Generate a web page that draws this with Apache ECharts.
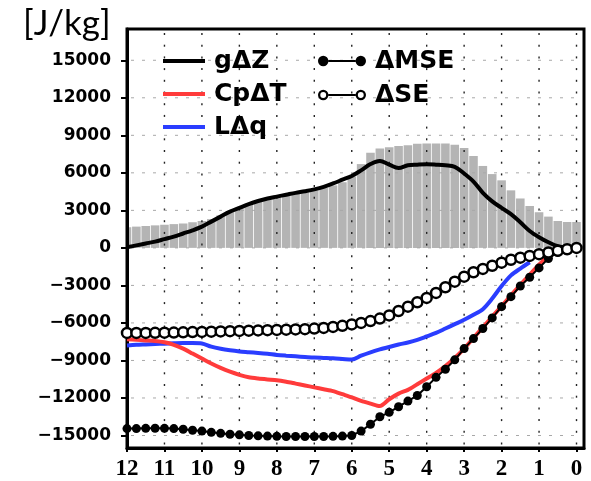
<!DOCTYPE html>
<html><head><meta charset="utf-8">
<script src="https://cdn.jsdelivr.net/npm/echarts@6/dist/echarts.min.js"></script>
<style>html,body{margin:0;padding:0;background:#fff}#c{width:591px;height:481px}</style>
</head><body><div id="c"></div>
<script>
// hours before (x axis, plotted from 12 down to 0)
const hours = [12, 11.75, 11.5, 11.25, 11, 10.75, 10.5, 10.25, 10, 9.75, 9.5, 9.25, 9, 8.75, 8.5, 8.25, 8, 7.75, 7.5, 7.25, 7, 6.75, 6.5, 6.25, 6, 5.75, 5.5, 5.25, 5, 4.75, 4.5, 4.25, 4, 3.75, 3.5, 3.25, 3, 2.75, 2.5, 2.25, 2, 1.75, 1.5, 1.25, 1, 0.75, 0.5, 0.25, 0];
// gray bars
const grayBars = [1650, 1700, 1750, 1800, 1850, 1900, 1950, 2050, 2150, 2300, 2600, 2950, 3200, 3450, 3700, 3900, 4050, 4200, 4350, 4450, 4600, 4800, 5000, 5250, 5700, 6700, 7600, 7950, 8050, 8140, 8200, 8330, 8350, 8350, 8350, 8250, 7980, 7350, 6550, 5900, 5400, 4600, 3950, 3350, 2850, 2500, 2150, 2070, 2070];
// gΔZ
const gdZ = [50, 200, 350, 500, 700, 900, 1150, 1400, 1700, 2100, 2500, 2900, 3200, 3500, 3750, 3950, 4100, 4250, 4400, 4530, 4680, 4880, 5150, 5450, 5750, 6200, 6700, 6950, 6650, 6380, 6600, 6650, 6680, 6650, 6600, 6480, 5950, 5300, 4400, 3720, 3200, 2700, 2050, 1350, 850, 450, 130, 20, 0];
// CpΔT
const cpdT = [-7300, -7350, -7400, -7450, -7550, -7750, -8050, -8450, -8850, -9250, -9600, -9900, -10150, -10350, -10450, -10520, -10580, -10700, -10850, -11000, -11150, -11300, -11450, -11700, -11950, -12230, -12450, -12650, -12100, -11650, -11350, -10900, -10450, -10000, -9450, -8800, -8050, -7200, -6350, -5500, -4650, -3800, -2950, -2150, -1350, -650, -200, -50, 0];
// LΔq
const lDq = [-7800, -7750, -7720, -7690, -7660, -7630, -7610, -7610, -7640, -7900, -8070, -8190, -8280, -8340, -8400, -8470, -8560, -8620, -8670, -8720, -8770, -8800, -8830, -8880, -8930, -8620, -8350, -8120, -7920, -7730, -7560, -7350, -7080, -6800, -6450, -6100, -5750, -5350, -4900, -4050, -3050, -2200, -1650, -1150, null, null, null, null, null];
// ΔMSE
const dMSE = [-14450, -14450, -14430, -14420, -14430, -14450, -14500, -14580, -14650, -14750, -14830, -14900, -14950, -15000, -15030, -15050, -15070, -15080, -15080, -15080, -15080, -15080, -15070, -15050, -15000, -14650, -14100, -13500, -13150, -12700, -12250, -11800, -11100, -10350, -9700, -8950, -8050, -7250, -6450, -5600, -4700, -3900, -3050, -2350, -1600, -850, -350, -100, 0];
// ΔSE
const dSE = [-6800, -6800, -6800, -6790, -6780, -6770, -6750, -6730, -6720, -6700, -6680, -6660, -6640, -6620, -6600, -6580, -6560, -6540, -6520, -6500, -6450, -6400, -6320, -6230, -6120, -6000, -5850, -5650, -5400, -5050, -4700, -4350, -4000, -3600, -3150, -2700, -2300, -1950, -1680, -1430, -1180, -950, -780, -640, -500, -370, -230, -110, 0];
const xTicks = [12, 11, 10, 9, 8, 7, 6, 5, 4, 3, 2, 1, 0];
const yTicks = [-15000, -12000, -9000, -6000, -3000, 0, 3000, 6000, 9000, 12000, 15000];

const pair = arr => hours.map((h, i) => [h, arr[i]]);
const chart = echarts.init(document.getElementById('c'), null, {renderer: 'canvas'});
const filledIcon = 'path://M1,6 A5,5 0 1,1 11,6 A5,5 0 1,1 1,6 Z M37,6 A5,5 0 1,1 47,6 A5,5 0 1,1 37,6 Z M11,5 L37,5 L37,7 L11,7 Z';
const openIcon = 'path://M1,6 A5,5 0 1,1 11,6 A5,5 0 1,1 1,6 Z M3.2,6 A2.8,2.8 0 1,0 8.8,6 A2.8,2.8 0 1,0 3.2,6 Z M37,6 A5,5 0 1,1 47,6 A5,5 0 1,1 37,6 Z M39.2,6 A2.8,2.8 0 1,0 44.8,6 A2.8,2.8 0 1,0 39.2,6 Z M11,5 L37,5 L37,7 L11,7 Z';
const legendText = {fontFamily: 'DejaVu Sans', fontWeight: 'bold', fontSize: 25, color: '#000', lineHeight: 25, padding: [0, 0, 0, 4]};
const minus = v => String(v).replace('-', '\u2212');
const HALF = 0.125; // half bin width in hours

// bars, plus the dotted / dashed grid drawn with the last bar (positions from api.coord)
const renderBars = (params, api) => {
  const cs = params.coordSys;
  const area = {x: cs.x, y: cs.y, width: cs.width, height: cs.height};
  const x = api.value(0), v = api.value(1);
  const a = api.coord([x + HALF, v]);
  const b = api.coord([x - HALF, 0]);
  const rect = {x: Math.min(a[0], b[0]) + 0.4, y: Math.min(a[1], b[1]),
                width: Math.abs(b[0] - a[0]) - 0.8, height: Math.abs(b[1] - a[1])};
  const children = [];
  const clipped = echarts.graphic.clipRectByRect(rect, area);
  if (clipped) children.push({type: 'rect', shape: clipped, style: {fill: '#b4b4b4'}});
  if (params.dataIndex === hours.length - 1) {
    xTicks.forEach(t => {
      const px = api.coord([t, 0])[0];
      for (let yy = cs.y + 4; yy < cs.y + cs.height - 2; yy += 11.7) {
        children.push({type: 'rect', z2: 10, shape: {x: px - 0.7, y: yy, width: 1.4, height: 2}, style: {fill: '#222'}});
      }
    });
    yTicks.forEach(t => {
      const py = api.coord([6, t])[1];
      for (let xx = cs.x + 4; xx < cs.x + cs.width - 3; xx += 11) {
        children.push({type: 'rect', z2: 10, shape: {x: xx, y: py - 0.5, width: 3, height: 1}, style: {fill: '#a8a8a8'}});
      }
    });
  }
  return {type: 'group', children: children};
};

chart.setOption({
  animation: false,
  title: {text: '[J/kg]', left: 18, top: 1, textStyle: {fontFamily: 'Lato', fontWeight: 'normal', fontSize: 35, color: '#000'}},
  grid: {left: 127, right: 7, top: 29, bottom: 33, show: true, borderColor: '#000', borderWidth: 3, z: 1},
  legend: [
    {orient: 'vertical', left: 163, top: 48.5, padding: 0, itemGap: 8, itemWidth: 42, itemHeight: 4,
     icon: 'rect', itemStyle: {borderWidth: 0}, textStyle: legendText, data: ['gΔZ', 'CpΔT', 'LΔq'], selectedMode: false},
    {orient: 'vertical', left: 318, top: 48.5, padding: 0, itemGap: 9, itemWidth: 48, itemHeight: 12,
     itemStyle: {borderWidth: 0}, textStyle: legendText, selectedMode: false,
     data: [{name: 'ΔMSE', icon: filledIcon, itemStyle: {color: '#000', borderWidth: 0}},
            {name: 'ΔSE', icon: openIcon, itemStyle: {color: '#000', borderWidth: 0}}]}
  ],
  xAxis: {
    type: 'value', inverse: true, min: -0.2, max: 12, z: 1,
    axisLine: {show: true, onZero: false, lineStyle: {color: '#000', width: 3}},
    axisTick: {show: true, customValues: xTicks, length: 4, lineStyle: {color: '#000', width: 2}},
    axisLabel: {customValues: xTicks, margin: 10, fontFamily: 'Liberation Sans Narrow', fontWeight: 'bold', fontSize: 23, color: '#000'},
    splitLine: {show: false}
  },
  yAxis: {
    type: 'value', min: -16000, max: 17500, z: 1,
    axisLine: {show: true, onZero: false, lineStyle: {color: '#000', width: 3}},
    axisTick: {show: true, customValues: yTicks, length: 6, lineStyle: {color: '#000', width: 2}},
    axisLabel: {customValues: yTicks, margin: 16, formatter: minus, fontFamily: 'DejaVu Sans', fontWeight: 'bold', fontSize: 17, color: '#000'},
    splitLine: {show: false}
  },
  series: [
    {type: 'custom', name: 'bars', data: pair(grayBars), z: 0, silent: true,
     encode: {x: 0, y: 1}, renderItem: renderBars},
    {type: 'line', name: 'gΔZ', data: pair(gdZ), smooth: 0.35, showSymbol: false, z: 3,
     lineStyle: {color: '#000', width: 4}, itemStyle: {color: '#000'}},
    {type: 'line', name: 'LΔq', data: pair(lDq), smooth: 0.3, showSymbol: false, z: 4, connectNulls: false,
     lineStyle: {color: '#2a3dff', width: 4}, itemStyle: {color: '#2a3dff'}},
    {type: 'line', name: 'CpΔT', data: pair(cpdT), smooth: 0.25, showSymbol: false, z: 5,
     lineStyle: {color: '#ff3b3b', width: 4}, itemStyle: {color: '#ff3b3b'}},
    {type: 'line', name: 'ΔMSE', data: pair(dMSE), symbol: 'circle', symbolSize: 9, z: 6,
     lineStyle: {color: '#000', width: 2}, itemStyle: {color: '#000'}},
    {type: 'line', name: 'ΔSE', data: pair(dSE), symbol: 'circle', symbolSize: 10, z: 7,
     lineStyle: {color: '#000', width: 2}, itemStyle: {color: '#fff', borderColor: '#000', borderWidth: 2.5}}
  ]
});
</script></body></html>
